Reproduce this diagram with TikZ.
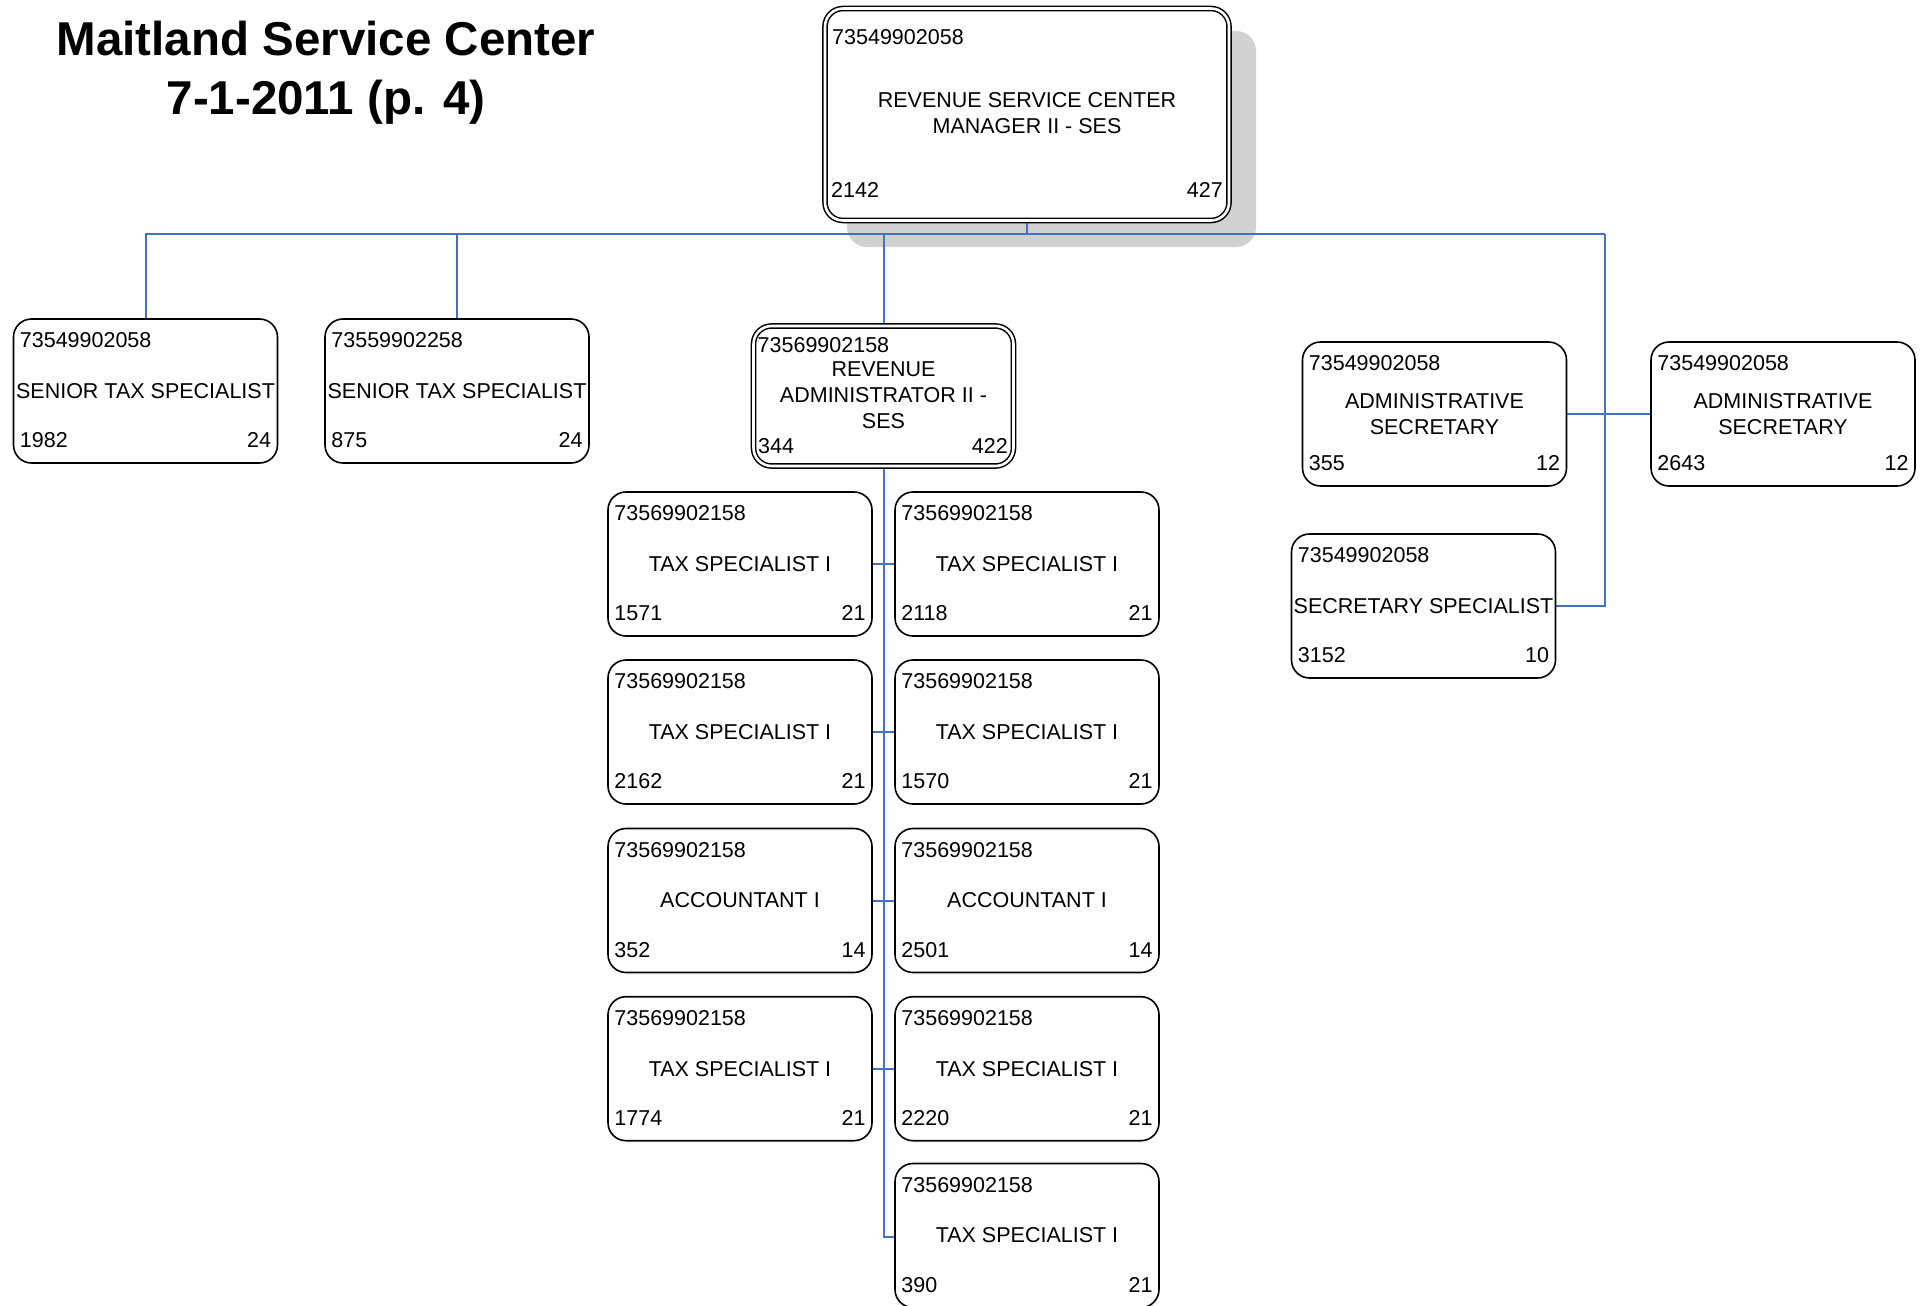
\documentclass[tikz,border=0pt]{standalone}
\usepackage{fontspec}
\setmainfont{Liberation Sans}
\definecolor{linkblue}{RGB}{68,114,196}
\definecolor{shadegray}{RGB}{209,209,209}
\tikzset{
  card/.style={draw=black, fill=white, line width=1.6pt, rounded corners=18pt,
    minimum width=264pt, minimum height=144pt, inner sep=0pt},
  dcard/.style={draw=black, fill=white, line width=1.5pt, double=white,
    double distance=2.6pt, rounded corners=18pt, inner sep=0pt},
  txt/.style={inner sep=0pt, font=\fontsize{21.5}{26}\selectfont, align=center},
  heading/.style={inner sep=0pt, font=\fontsize{47.5}{58}\selectfont\bfseries, anchor=base},
  link/.style={draw=linkblue, line width=2pt},
}
% one position card: name, x, y, number, title, left figure, right figure
\newcommand\orgcard[7]{%
  \node[card] (#1) at (#2,#3) {};
  \node[txt, anchor=west] (#1-id) at ([xshift=7pt,yshift=-22pt]#1.north west) {#4};
  \node[txt] (#1-t) at (#1.center) {#5};
  \node[txt, anchor=west] (#1-l) at ([xshift=7pt,yshift=23.5pt]#1.south west) {#6};
  \node[txt, anchor=east] (#1-r) at ([xshift=-7pt,yshift=23.5pt]#1.south east) {#7};
}
\begin{document}
\begin{tikzpicture}[x=1pt,y=-1pt]
\useasboundingbox (0,0) rectangle (1925,1306);

% heading
\node[heading] (head1) at (326,56) {Maitland Service Center};
\node[heading] (head2) at (326,114) {7-1-2011 (p. 4)};

% drop shadow behind the manager card
\fill[shadegray, rounded corners=20pt] (847,31) rectangle (1256,247);

% bus coordinates
\coordinate (busR) at (1605,234);
\coordinate (topc) at (1027,114.5);
\coordinate (admc) at (883.5,396);

% connectors
\draw[link] (1027,221) -- (1027,234);
\draw[link] (145.5,319) |- (busR);
\draw[link] (457,319) -- (457,234);
\draw[link] (883.5,324) -- (883.5,234);
\draw[link] (busR) |- (1555.5,606);
\draw[link] (1566.5,414) -- (1651,414);
\draw[link] (883.5,468) |- (895,1236.5);
\foreach \yy in {564,732,900.5,1068.7}
  \draw[link] (872,\yy) -- (895,\yy);

% manager card
\node[dcard, minimum width=404pt, minimum height=212pt] (top) at (topc) {};
\node[txt, anchor=west] (top-id) at (832,37) {73549902058};
\node[txt] (top-t) at (1027,113) {REVENUE SERVICE CENTER\\MANAGER II - SES};
\node[txt, anchor=west] (top-l) at (831,190) {2142};
\node[txt, anchor=east] (top-r) at (1223,190) {427};

% administrator card
\node[dcard, minimum width=260pt, minimum height=140pt] (adm) at (admc) {};
\node[txt, anchor=west] (adm-id) at (757.5,345) {73569902158};
\node[txt] (adm-t) at (883.5,395) {REVENUE\\ADMINISTRATOR II -\\SES};
\node[txt, anchor=west] (adm-l) at (758,446) {344};
\node[txt, anchor=east] (adm-r) at (1008,446) {422};

% second level
\orgcard{sts1}{145.5}{391}{73549902058}{SENIOR TAX SPECIALIST}{1982}{24}
\orgcard{sts2}{457}{391}{73559902258}{SENIOR TAX SPECIALIST}{875}{24}
\orgcard{as1}{1434.5}{414}{73549902058}{ADMINISTRATIVE\\SECRETARY}{355}{12}
\orgcard{as2}{1783}{414}{73549902058}{ADMINISTRATIVE\\SECRETARY}{2643}{12}
\orgcard{ss}{1423.5}{606}{73549902058}{SECRETARY SPECIALIST}{3152}{10}

% staff under the administrator
\orgcard{t1}{740}{564}{73569902158}{TAX SPECIALIST I}{1571}{21}
\orgcard{t2}{1027}{564}{73569902158}{TAX SPECIALIST I}{2118}{21}
\orgcard{t3}{740}{732}{73569902158}{TAX SPECIALIST I}{2162}{21}
\orgcard{t4}{1027}{732}{73569902158}{TAX SPECIALIST I}{1570}{21}
\orgcard{t5}{740}{900.5}{73569902158}{ACCOUNTANT I}{352}{14}
\orgcard{t6}{1027}{900.5}{73569902158}{ACCOUNTANT I}{2501}{14}
\orgcard{t7}{740}{1068.7}{73569902158}{TAX SPECIALIST I}{1774}{21}
\orgcard{t8}{1027}{1068.7}{73569902158}{TAX SPECIALIST I}{2220}{21}
\orgcard{t9}{1027}{1235.5}{73569902158}{TAX SPECIALIST I}{390}{21}
\end{tikzpicture}
\end{document}
